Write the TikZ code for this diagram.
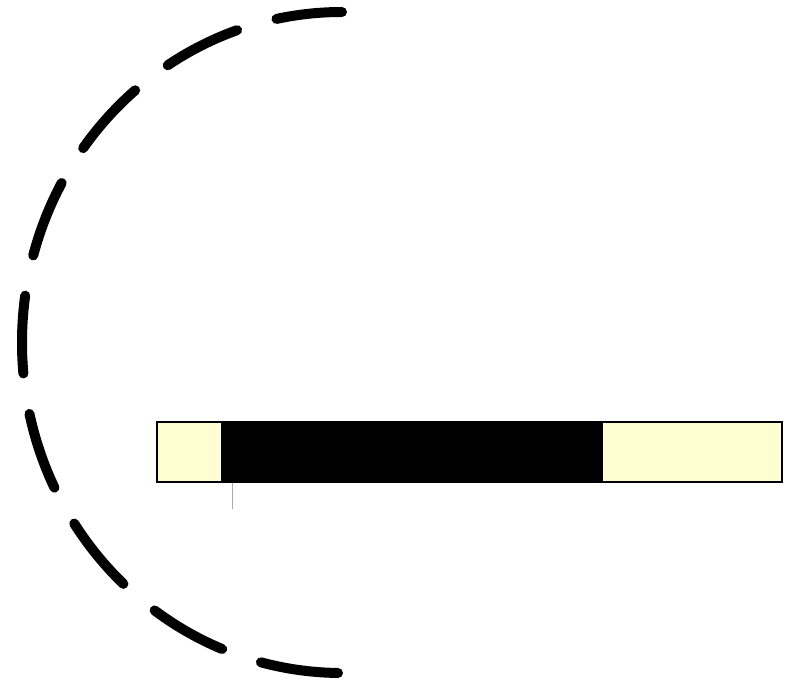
\documentclass[tikz,border=0pt]{standalone}
\definecolor{barfill}{RGB}{255,253,210}
\definecolor{tickgray}{RGB}{170,170,170}
\tikzset{
  dasharc/.style={line width=10pt, line cap=round, dash pattern=on 78pt off 41pt, dash phase=12pt},
  barframe/.style={draw=black, line width=2pt, fill=barfill},
  barcore/.style={fill=black},
  tickline/.style={draw=tickgray, line width=1pt}
}
\begin{document}
\begin{tikzpicture}[x=1pt,y=1pt]
\useasboundingbox (0,0) rectangle (787,683);
\draw[dasharc] (342,671) arc[start angle=90, end angle=270, x radius=320, y radius=330.5];
\draw[barframe] (157,201) rectangle (782,261);
\fill[barcore] (221,202) rectangle (603,260);
\coordinate (t1) at (232,200);
\coordinate (t2) at (232,174);
\draw[tickline] (t1) -- (t2);
\end{tikzpicture}
\end{document}
